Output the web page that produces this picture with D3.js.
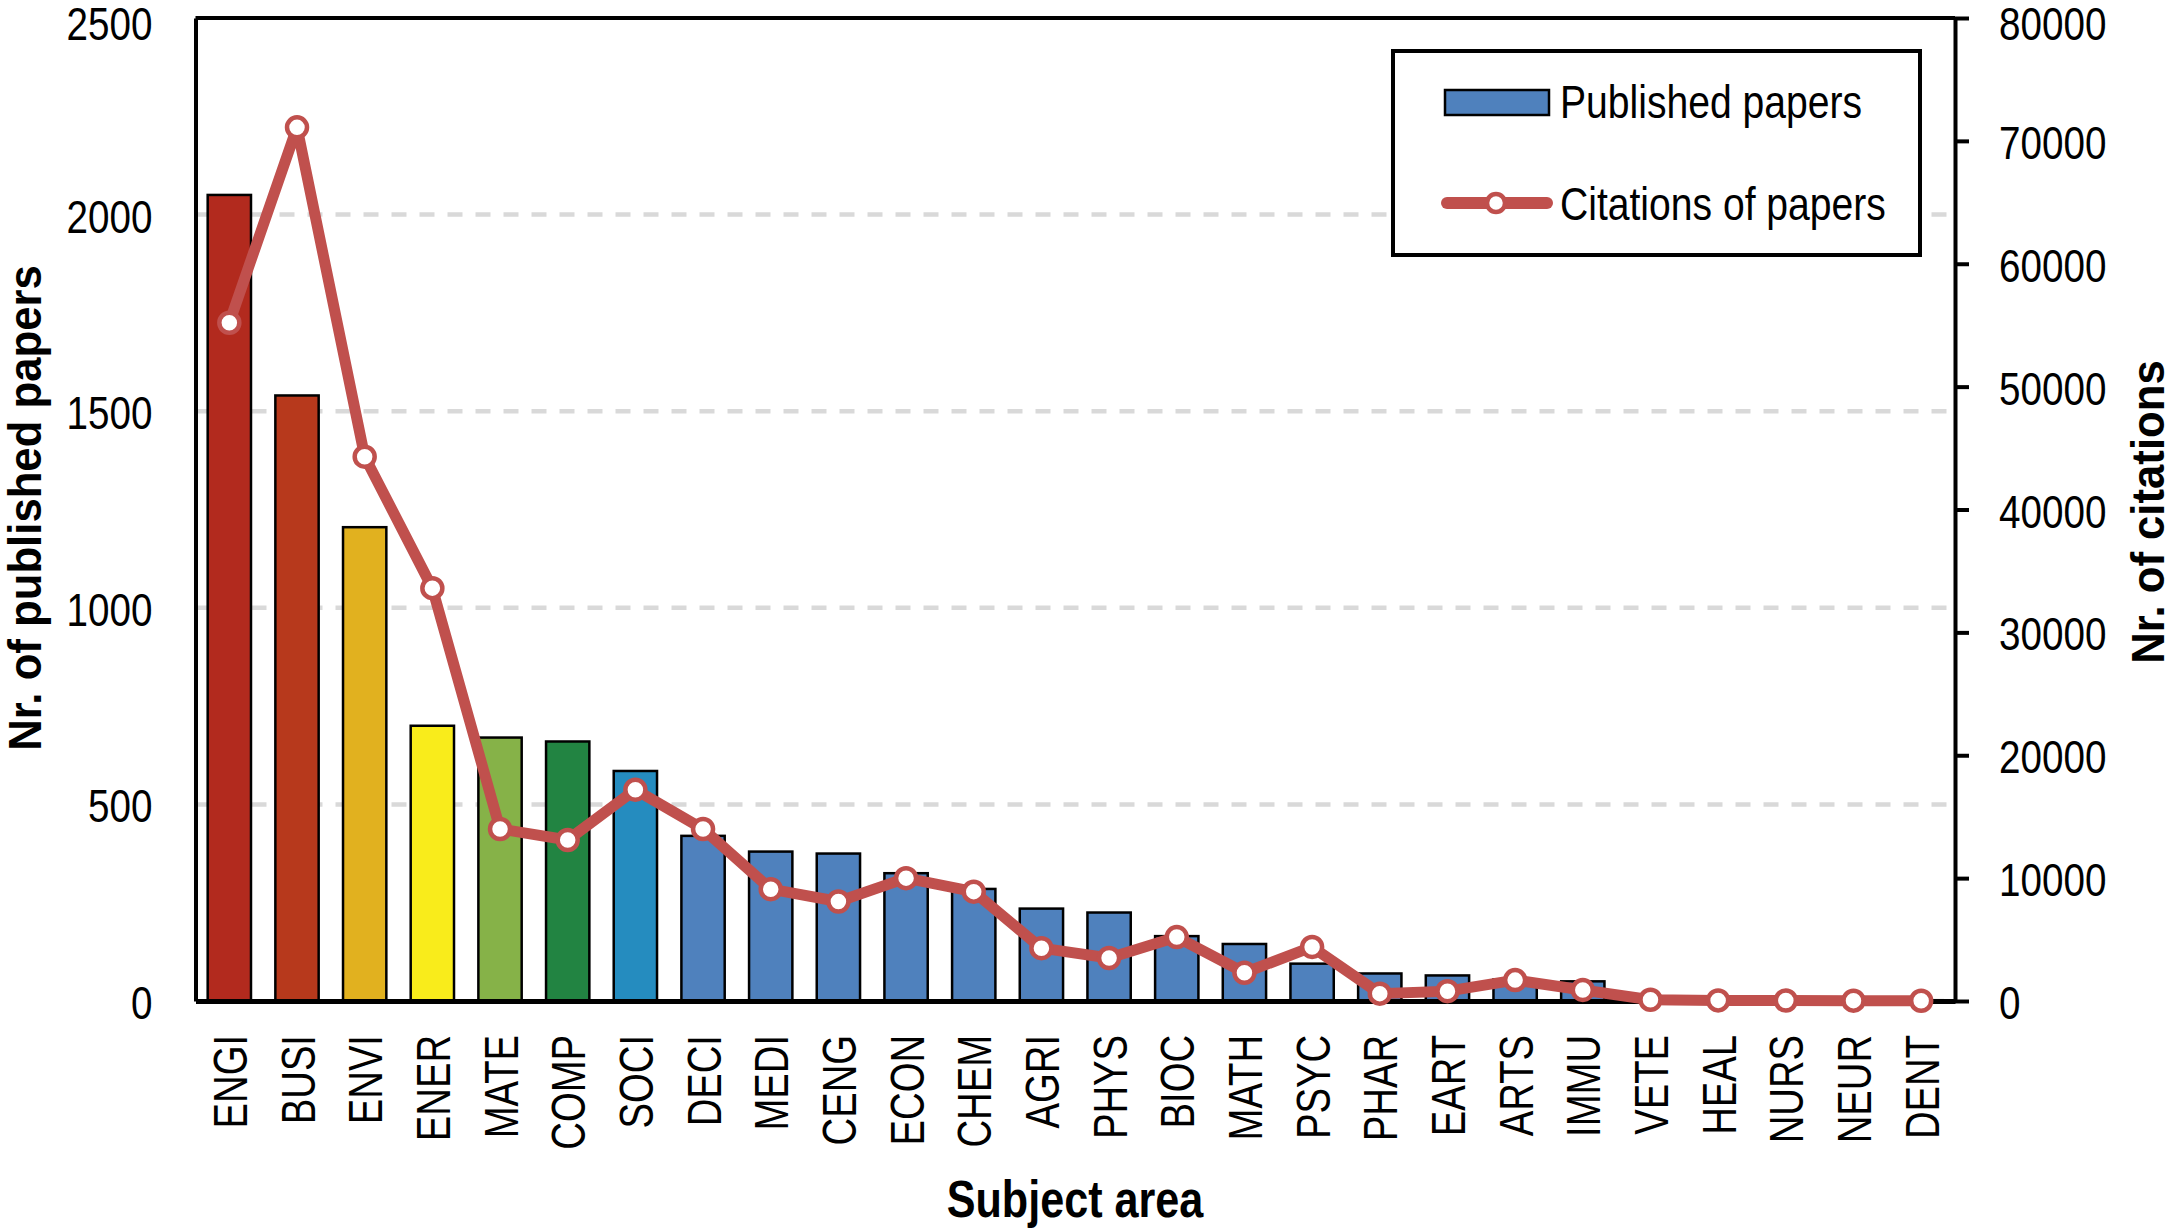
<!DOCTYPE html>
<html>
<head>
<meta charset="utf-8">
<script src="https://cdn.jsdelivr.net/npm/d3@7"></script>
<style>
  body { margin: 0; background: #fff; }
  svg { display: block; font-family: "Liberation Sans", Arial, sans-serif; }
</style>
</head>
<body>
<div id="chart"></div>
<script>
// data
const categories = ["ENGI","BUSI","ENVI","ENER","MATE","COMP","SOCI","DECI","MEDI","CENG","ECON","CHEM","AGRI","PHYS","BIOC","MATH","PSYC","PHAR","EART","ARTS","IMMU","VETE","HEAL","NURS","NEUR","DENT"];
const papers = [2050,1540,1205,700,670,660,585,420,380,375,325,285,235,225,165,145,95,70,65,55,50,10,6,4,3,2];
const citations = [55200,71100,44300,33600,14000,13100,17200,14000,9100,8100,10000,8900,4300,3500,5200,2300,4400,600,800,1700,900,100,50,40,30,20];
const leftTicks = [0,500,1000,1500,2000,2500];
const rightTicks = [0,10000,20000,30000,40000,50000,60000,70000,80000];
const gridTicks = [500,1000,1500,2000];

const blue = "#4F81BD", red = "#C0504D";
const barColors = ["#B22A1E","#B7391C","#E1B11F","#F9EC1B","#86B248","#228442","#258CBF"];

var width = 2174, height = 1228;
var margin = {top: 18, right: 219, bottom: 227, left: 195.5};

var svg = d3.select("#chart")
    .append("svg")
    .attr("width", width)
    .attr("height", height);

var plotW = width - margin.left - margin.right,
    plotH = height - margin.top - margin.bottom;

var g = svg.append("g")
    .attr("transform", "translate(" + margin.left + "," + margin.top + ")");

var x = d3.scaleBand()
    .domain(categories)
    .range([0, plotW])
    .paddingInner(0.36)
    .paddingOuter(0.18);

var y = d3.scaleLinear().domain([0, 2500]).range([plotH, 0]);
var y2 = d3.scaleLinear().domain([0, 80000]).range([plotH, 0]);

// dashed grid
g.append("g")
  .selectAll("line")
  .data(gridTicks)
  .enter()
  .append("line")
  .attr("x1", 0)
  .attr("x2", plotW)
  .attr("y1", d => y(d))
  .attr("y2", d => y(d))
  .attr("stroke", "#d9d9d9")
  .attr("stroke-width", 4.5)
  .attr("stroke-dasharray", "15,13");

// bars
g.append("g")
  .selectAll("rect")
  .data(papers)
  .enter()
  .append("rect")
  .attr("x", (d, i) => x(categories[i]))
  .attr("y", d => y(d))
  .attr("width", x.bandwidth())
  .attr("height", d => plotH - y(d))
  .attr("fill", (d, i) => barColors[i] || blue)
  .attr("stroke", "#000")
  .attr("stroke-width", 2.5);

// top frame line
g.append("line")
  .attr("x1", 0).attr("x2", plotW)
  .attr("y1", 0).attr("y2", 0)
  .attr("stroke", "#000").attr("stroke-width", 4);

// left axis
var yAxis = g.append("g")
  .call(d3.axisLeft(y).tickValues(leftTicks).tickFormat(d3.format("d")).tickSize(0).tickPadding(0));
yAxis.select(".domain").attr("stroke-width", 4);
yAxis.selectAll("text")
  .attr("x", 0)
  .attr("dy", "0.36em")
  .attr("font-size", 46)
  .attr("fill", "#000")
  .attr("transform", d => "translate(-43," + (d === 2500 ? 5 : 1) + ") scale(0.84,1)");

// right axis
var y2Axis = g.append("g")
  .attr("transform", "translate(" + plotW + ",0)")
  .call(d3.axisRight(y2).tickValues(rightTicks).tickFormat(d3.format("d")).tickSize(14).tickSizeOuter(0).tickPadding(0));
y2Axis.select(".domain").attr("stroke-width", 4);
y2Axis.selectAll(".tick line").attr("stroke-width", 4);
y2Axis.selectAll("text")
  .attr("x", 0)
  .attr("dy", "0.36em")
  .attr("font-size", 46)
  .attr("fill", "#000")
  .attr("text-anchor", "start")
  .attr("transform", d => "translate(44," + (d === 80000 ? 5 : 1) + ") scale(0.84,1)");

// bottom axis
var xAxis = g.append("g")
  .attr("transform", "translate(0," + plotH + ")")
  .call(d3.axisBottom(x).tickSize(0).tickSizeOuter(0));
xAxis.select(".domain").attr("stroke-width", 5);
xAxis.selectAll("text")
  .attr("x", 0).attr("y", 0).attr("dy", 0)
  .attr("font-size", 49)
  .attr("fill", "#000")
  .attr("text-anchor", "end")
  .attr("transform", "translate(17.5,34) rotate(-90) scale(0.78,1)");

// citations line
var line = d3.line()
  .x((d, i) => x(categories[i]) + x.bandwidth() / 2)
  .y(d => y2(d));

g.append("path")
  .datum(citations)
  .attr("d", line)
  .attr("fill", "none")
  .attr("stroke", red)
  .attr("stroke-width", 11)
  .attr("stroke-linejoin", "round");

g.append("g")
  .selectAll("circle")
  .data(citations)
  .enter()
  .append("circle")
  .attr("cx", (d, i) => x(categories[i]) + x.bandwidth() / 2)
  .attr("cy", d => y2(d))
  .attr("r", 10)
  .attr("fill", "#fff")
  .attr("stroke", red)
  .attr("stroke-width", 4.5);

// axis titles
svg.append("text")
  .attr("transform", "translate(41,508) rotate(-90) scale(0.95,1)")
  .attr("text-anchor", "middle")
  .attr("font-size", 46)
  .attr("font-weight", "bold")
  .text("Nr. of published papers");

svg.append("text")
  .attr("transform", "translate(2164,512) rotate(-90) scale(0.95,1)")
  .attr("text-anchor", "middle")
  .attr("font-size", 46)
  .attr("font-weight", "bold")
  .text("Nr. of citations");

svg.append("text")
  .attr("transform", "translate(1075,1217) scale(0.83,1)")
  .attr("text-anchor", "middle")
  .attr("font-size", 52)
  .attr("font-weight", "bold")
  .text("Subject area");

// legend
var legend = svg.append("g");
legend.append("rect")
  .attr("x", 1393).attr("y", 51)
  .attr("width", 527).attr("height", 204)
  .attr("fill", "#fff")
  .attr("stroke", "#000")
  .attr("stroke-width", 4);

legend.append("rect")
  .attr("x", 1445).attr("y", 90)
  .attr("width", 104).attr("height", 25)
  .attr("fill", blue)
  .attr("stroke", "#000")
  .attr("stroke-width", 2.5);

legend.append("line")
  .attr("x1", 1447).attr("x2", 1547)
  .attr("y1", 203).attr("y2", 203)
  .attr("stroke", red)
  .attr("stroke-width", 12)
  .attr("stroke-linecap", "round");

legend.append("circle")
  .attr("cx", 1496).attr("cy", 203)
  .attr("r", 9)
  .attr("fill", "#fff")
  .attr("stroke", red)
  .attr("stroke-width", 4.5);

legend.append("text")
  .attr("transform", "translate(1560,118) scale(0.85,1)")
  .attr("font-size", 46)
  .text("Published papers");

legend.append("text")
  .attr("transform", "translate(1560,220) scale(0.85,1)")
  .attr("font-size", 46)
  .text("Citations of papers");
</script>
</body>
</html>
